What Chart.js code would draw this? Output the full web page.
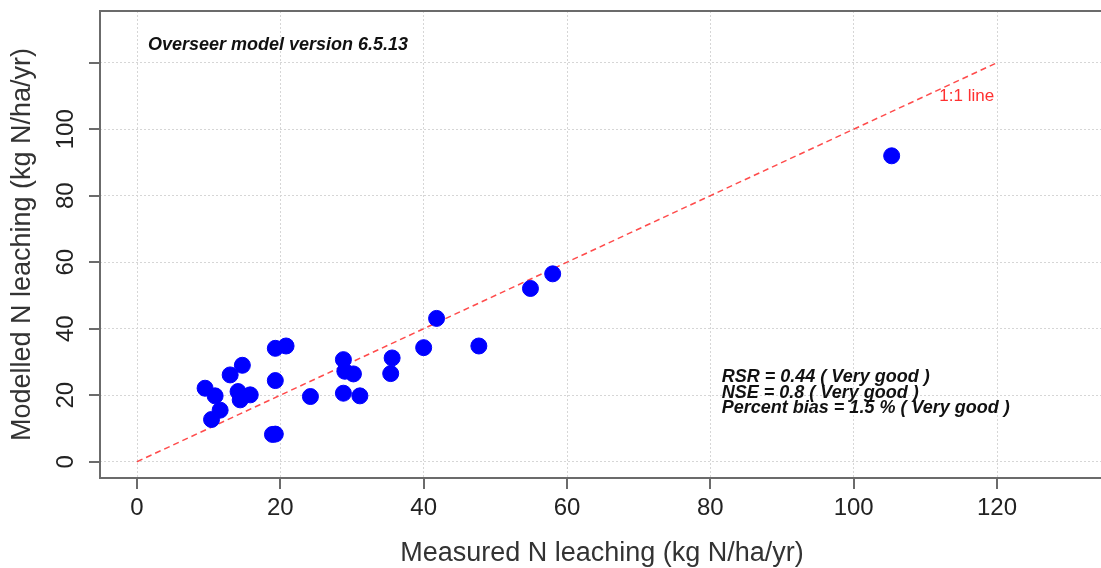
<!DOCTYPE html>
<html>
<head>
<meta charset="utf-8">
<script src="https://cdn.jsdelivr.net/npm/chart.js@4.4.0/dist/chart.umd.min.js"></script>
<style>
  html, body { margin: 0; padding: 0; background: #fff; }
  canvas { display: block; }
</style>
</head>
<body>
<canvas id="chart" width="1101" height="568"></canvas>
<script>
// measured vs modelled N leaching (kg N/ha/yr)
const measured = [9.5, 10.9, 11.6, 10.4, 13.0, 14.7, 14.1, 14.4, 15.8, 19.3, 19.3, 20.8, 24.2, 18.9, 19.3,
  28.8, 29.0, 30.2, 28.8, 31.1, 35.6, 35.4, 40.0, 41.8, 47.7, 54.9, 58.0, 105.3];
const modelled = [22.1, 19.8, 15.5, 12.7, 26.1, 29.0, 21.1, 18.6, 20.1, 24.4, 34.1, 34.8, 19.6, 8.2, 8.3,
  30.7, 27.2, 26.4, 20.6, 19.8, 31.2, 26.5, 34.3, 43.1, 34.8, 52.1, 56.5, 92.0];

const axisTicks = [0, 20, 40, 60, 80, 100, 120];
const xTickLabels = ['0', '20', '40', '60', '80', '100', '120'];
const yTickLabels = ['0', '20', '40', '60', '80', '100'];
const oneToOne = [0, 120];

const xTitle = 'Measured N leaching (kg N/ha/yr)';
const yTitle = 'Modelled N leaching (kg N/ha/yr)';
const modelNote = 'Overseer model version 6.5.13';
const lineNote = '1:1 line';
const statsLines = ['RSR = 0.44 ( Very good )', 'NSE = 0.8 ( Very good )', 'Percent bias = 1.5 % ( Very good )'];

const FONT = '"Liberation Sans", Arial, Helvetica, sans-serif';

// R style frame, ticks and text drawn on top of chart.js grid
const rPlot = {
  id: 'rPlot',
  beforeDatasetsDraw(chart) {
    const { ctx, chartArea: a, scales: { x, y } } = chart;
    ctx.save();
    ctx.strokeStyle = '#6b6b6b';
    ctx.lineWidth = 2;
    ctx.beginPath();
    ctx.moveTo(a.right + 5, a.top);
    ctx.lineTo(a.left, a.top);
    ctx.lineTo(a.left, a.bottom);
    ctx.lineTo(a.right + 5, a.bottom);
    ctx.stroke();

    ctx.beginPath();
    axisTicks.forEach(v => {
      const px = Math.round(x.getPixelForValue(v));
      ctx.moveTo(px, a.bottom);
      ctx.lineTo(px, a.bottom + 11);
      const py = Math.round(y.getPixelForValue(v));
      ctx.moveTo(a.left - 11, py);
      ctx.lineTo(a.left, py);
    });
    ctx.stroke();

    ctx.fillStyle = '#222';
    ctx.font = '24px ' + FONT;
    ctx.textAlign = 'center';
    ctx.textBaseline = 'alphabetic';
    xTickLabels.forEach((lab, i) => {
      ctx.fillText(lab, x.getPixelForValue(axisTicks[i]), 515);
    });
    yTickLabels.forEach((lab, i) => {
      ctx.save();
      ctx.translate(73, y.getPixelForValue(axisTicks[i]));
      ctx.rotate(-Math.PI / 2);
      ctx.fillText(lab, 0, 0);
      ctx.restore();
    });

    ctx.font = '27px ' + FONT;
    ctx.fillStyle = '#333';
    ctx.fillText(xTitle, 602, 561);
    ctx.save();
    ctx.translate(30, (a.top + a.bottom) / 2);
    ctx.rotate(-Math.PI / 2);
    ctx.fillText(yTitle, 0, 0);
    ctx.restore();
    ctx.restore();
  },
  afterDatasetsDraw(chart) {
    const { ctx, scales: { x, y } } = chart;
    ctx.save();
    ctx.textBaseline = 'alphabetic';
    ctx.fillStyle = '#111';
    ctx.font = 'italic bold 18px ' + FONT;
    ctx.textAlign = 'left';
    ctx.fillText(modelNote, x.getPixelForValue(1.53), y.getPixelForValue(123.8));

    statsLines.forEach((t, i) => {
      ctx.fillText(t, x.getPixelForValue(81.6), y.getPixelForValue(23.97) + i * 15.5);
    });

    ctx.fillStyle = '#ff3030';
    ctx.font = '17px ' + FONT;
    ctx.textAlign = 'right';
    ctx.fillText(lineNote, x.getPixelForValue(119.6), y.getPixelForValue(108.6));
    ctx.restore();
  }
};

const keepTicks = s => { s.ticks = axisTicks.map(v => ({ value: v })); };

const ctx = document.getElementById('chart').getContext('2d');
new Chart(ctx, {
  type: 'scatter',
  data: {
    datasets: [
      {
        label: 'Sites',
        data: measured.map((m, i) => ({ x: m, y: modelled[i] })),
        backgroundColor: '#0000ff',
        borderColor: '#0000ff',
        borderWidth: 1,
        pointRadius: 8,
        pointHoverRadius: 8,
        order: 0
      },
      {
        type: 'line',
        label: '1:1 line',
        data: oneToOne.map(v => ({ x: v, y: v })),
        borderColor: 'rgba(255, 30, 30, 0.8)',
        borderWidth: 1.5,
        borderDash: [6, 4],
        pointRadius: 0,
        fill: false,
        order: 1
      }
    ]
  },
  options: {
    responsive: false,
    animation: false,
    devicePixelRatio: 1,
    layout: { autoPadding: false, padding: { top: 11, right: 0, bottom: 0, left: 0 } },
    plugins: { legend: { display: false }, tooltip: { enabled: false } },
    scales: {
      x: {
        type: 'linear',
        min: -5.163,
        max: 134.51,
        afterBuildTicks: keepTicks,
        afterFit: s => { s.height = 90; s.paddingLeft = 0; s.paddingRight = 0; },
        ticks: { display: false },
        grid: { color: '#d6d6d6', lineWidth: 1, drawTicks: false },
        border: { display: false, dash: [2, 2] }
      },
      y: {
        type: 'linear',
        min: -4.9,
        max: 135.55,
        afterBuildTicks: keepTicks,
        afterFit: s => { s.width = 100; s.paddingTop = 0; s.paddingBottom = 0; },
        ticks: { display: false },
        grid: { color: '#d6d6d6', lineWidth: 1, drawTicks: false },
        border: { display: false, dash: [2, 2] }
      }
    }
  },
  plugins: [rPlot]
});
</script>
</body>
</html>
